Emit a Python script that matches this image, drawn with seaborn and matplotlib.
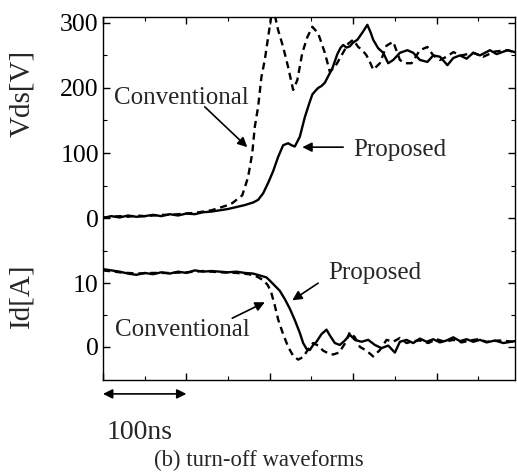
import matplotlib
matplotlib.use("Agg")
import matplotlib.pyplot as plt
import seaborn as sns
from matplotlib.ticker import MultipleLocator

# time axis in ns
t_vp = [0, 10, 20, 30, 40, 50, 60, 70, 80, 90, 100, 110, 120, 130, 140, 150, 160, 170,
        180, 186, 192, 198, 204, 210, 216, 222, 226, 230, 236, 242, 247, 251, 255, 258,
        262, 266, 270, 275, 281, 285, 288, 292, 296, 300, 305, 311, 317, 321, 324, 330,
        336, 342, 348, 356, 365, 372, 380, 389, 396, 404, 413, 420, 428, 436, 444, 452,
        464, 472, 485, 494]
vds_prop = [0, 3, 1, 4, 2, 3, 5, 3, 6, 4, 7, 6, 9, 10, 12, 14, 17, 20,
            24, 28, 38, 54, 72, 94, 112, 115, 112, 110, 125, 155, 175, 190, 196, 200,
            203, 208, 218, 230, 252, 262, 266, 262, 264, 270, 274, 285, 297, 285, 274, 261,
            254, 238, 243, 254, 258, 254, 243, 240, 250, 248, 235, 246, 250, 245, 254, 250,
            258, 252, 258, 255]

t_vc = [0, 10, 20, 30, 40, 50, 60, 70, 80, 90, 100, 110, 120, 130, 140, 150, 155, 167,
        174, 179, 182, 186, 190, 194, 198, 202, 206, 210, 216, 222, 228, 233, 239, 245,
        251, 258, 266, 272, 278, 286, 294, 300, 306, 311, 316, 320, 324, 332, 340, 348,
        356, 362, 370, 380, 389, 396, 404, 412, 420, 430, 444, 456, 470, 485, 494]
vds_conv = [1, 2, 3, 2, 4, 3, 4, 5, 5, 6, 7, 8, 10, 12, 16, 20, 23, 35,
            63, 100, 140, 171, 217, 243, 278, 312, 312, 289, 263, 232, 197, 212, 254, 278,
            294, 284, 254, 225, 232, 250, 268, 274, 263, 258, 250, 240, 228, 238, 265, 271,
            243, 238, 238, 258, 263, 250, 243, 248, 255, 250, 254, 248, 256, 258, 255]

t_ip = [0, 10, 20, 30, 40, 50, 60, 70, 80, 90, 100, 110, 120, 130, 140, 150, 160, 170,
        180, 188, 196, 200, 206, 212, 218, 224, 230, 236, 240, 244, 248, 252, 256, 262,
        268, 272, 278, 284, 290, 296, 302, 310, 318, 326, 334, 342, 350, 356, 364, 372,
        380, 388, 396, 404, 412, 420, 428, 436, 444, 452, 460, 470, 480, 494]
id_prop = [12.2, 12.0, 11.8, 11.5, 11.3, 11.6, 11.4, 11.7, 11.5, 11.8, 11.6, 12.0, 11.8,
           11.9, 11.8, 11.7, 11.8, 11.6, 11.5, 11.2, 10.9, 10.4, 9.6, 8.8, 7.5, 6.0, 4.2,
           2.2, 0.6, -0.3, -0.5, 0.3, 0.8, 2.0, 2.7, 1.8, 0.6, 0.3, 1.0, 1.9, 1.1, 0.8,
           1.1, 0.3, -0.2, 0.2, -0.9, 0.8, 1.1, 0.6, 1.3, 0.8, 1.2, 0.7, 1.0, 1.5, 0.9,
           1.2, 0.8, 1.1, 0.7, 1.0, 0.6, 0.9]

t_ic = [0, 20, 40, 60, 80, 100, 120, 140, 160, 175, 185, 193, 198, 202, 206, 210, 216,
        222, 228, 234, 240, 246, 252, 258, 264, 270, 276, 283, 290, 296, 302, 308, 316,
        324, 332, 340, 348, 356, 364, 372, 380, 390, 400, 410, 420, 430, 440, 450, 460,
        475, 494]
id_conv = [12.0, 11.7, 11.5, 11.6, 11.6, 11.7, 11.9, 11.7, 11.6, 11.4, 11.0, 10.4, 9.6,
           8.4, 6.5, 4.3, 2.0, 0.0, -1.4, -2.0, -1.6, -0.4, 0.6, 0.2, -0.6, -1.0, -1.2,
           -0.9, 0.5, 2.3, 1.5, 0.0, -0.6, -1.5, -0.5, 1.1, 0.8, 1.4, 0.6, 0.9, 1.0, 0.6,
           1.2, 0.8, 1.1, 0.7, 1.0, 1.2, 0.8, 1.0, 0.8]

sns.set_style("ticks")
plt.rcParams['font.family'] = ['Liberation Serif', 'DejaVu Serif']

fig = plt.figure(figsize=(5.17, 4.74), dpi=100)
ax1 = fig.add_axes([0.1992, 0.4726, 0.7969, 0.4915])
ax2 = fig.add_axes([0.1992, 0.1983, 0.7969, 0.2743], sharex=ax1)

lw = 1.7
sns.lineplot(x=t_vp, y=vds_prop, ax=ax1, color='k', lw=lw)
sns.lineplot(x=t_vc, y=vds_conv, ax=ax1, color='k', lw=lw, linestyle=(0, (3, 2)))
sns.lineplot(x=t_ip, y=id_prop, ax=ax2, color='k', lw=lw)
sns.lineplot(x=t_ic, y=id_conv, ax=ax2, color='k', lw=lw, linestyle=(0, (3, 2)))

ax1.set_xlim(0, 494)
ax1.set_ylim(-49, 309)
ax2.set_ylim(-5.2, 15.2)

ax1.spines['bottom'].set_visible(False)
ax2.spines['top'].set_visible(False)
for ax in (ax1, ax2):
    for s in ax.spines.values():
        s.set_linewidth(1.0)
        s.set_color('k')
    ax.xaxis.set_major_locator(MultipleLocator(100))
    ax.xaxis.set_minor_locator(MultipleLocator(50))
    ax.tick_params(which='both', direction='in', left=True, right=True, colors='k')
    ax.tick_params(which='major', length=5, width=1.0, labelsize=18.5, pad=3)
    ax.tick_params(which='minor', length=3, width=0.8)

ax1.tick_params(which='both', top=True, bottom=False, labelbottom=False)
ax2.tick_params(which='both', top=False, bottom=True, labelbottom=False)
ax1.yaxis.set_major_locator(MultipleLocator(100))
ax1.yaxis.set_minor_locator(MultipleLocator(50))
ax1.set_yticks([0, 100, 200, 300])
ax2.set_yticks([0, 10])
ax2.set_yticks([5, 15], minor=True)

ax1.set_xlabel("")
ax2.set_xlabel("")
ax1.set_ylabel("Vds[V]", fontsize=21, va='center')
ax1.yaxis.set_label_coords(-0.197, 0.67)
ax2.set_ylabel("Id[A]", fontsize=21, va='center')
ax2.yaxis.set_label_coords(-0.197, 0.65)

arrow = dict(arrowstyle='-|>', color='k', lw=1.2, mutation_scale=14, shrinkA=0, shrinkB=0)

# Vds annotations
ax1.text(94, 185, "Conventional", fontsize=18, ha='center', va='center')
ax1.annotate("", xy=(173, 109), xytext=(122, 171), arrowprops=arrow)
ax1.text(300, 105, "Proposed", fontsize=18, ha='left', va='center')
ax1.annotate("", xy=(239, 109), xytext=(288, 109), arrowprops=arrow)

# Id annotations
ax2.text(270, 11.6, "Proposed", fontsize=18, ha='left', va='center')
ax2.annotate("", xy=(227, 7.3), xytext=(258, 10.0), arrowprops=arrow)
ax2.text(14, 2.7, "Conventional", fontsize=18, ha='left', va='center')
ax2.annotate("", xy=(194, 7.0), xytext=(155, 4.5), arrowprops=arrow)

# 100 ns scale bar
ax2.annotate("", xy=(100, 0.169), xytext=(0, 0.169), xycoords=('data', 'figure fraction'),
             textcoords=('data', 'figure fraction'),
             arrowprops=dict(arrowstyle='<|-|>', color='k', lw=1.2, mutation_scale=14,
                             shrinkA=0, shrinkB=0))
fig.text(107 / 517, 0.0865, "100ns", fontsize=20, ha='left', va='center')
fig.text(0.5, 0.0295, "(b) turn-off waveforms", fontsize=16.4, ha='center', va='center')

fig.savefig("out.png", dpi=100)
